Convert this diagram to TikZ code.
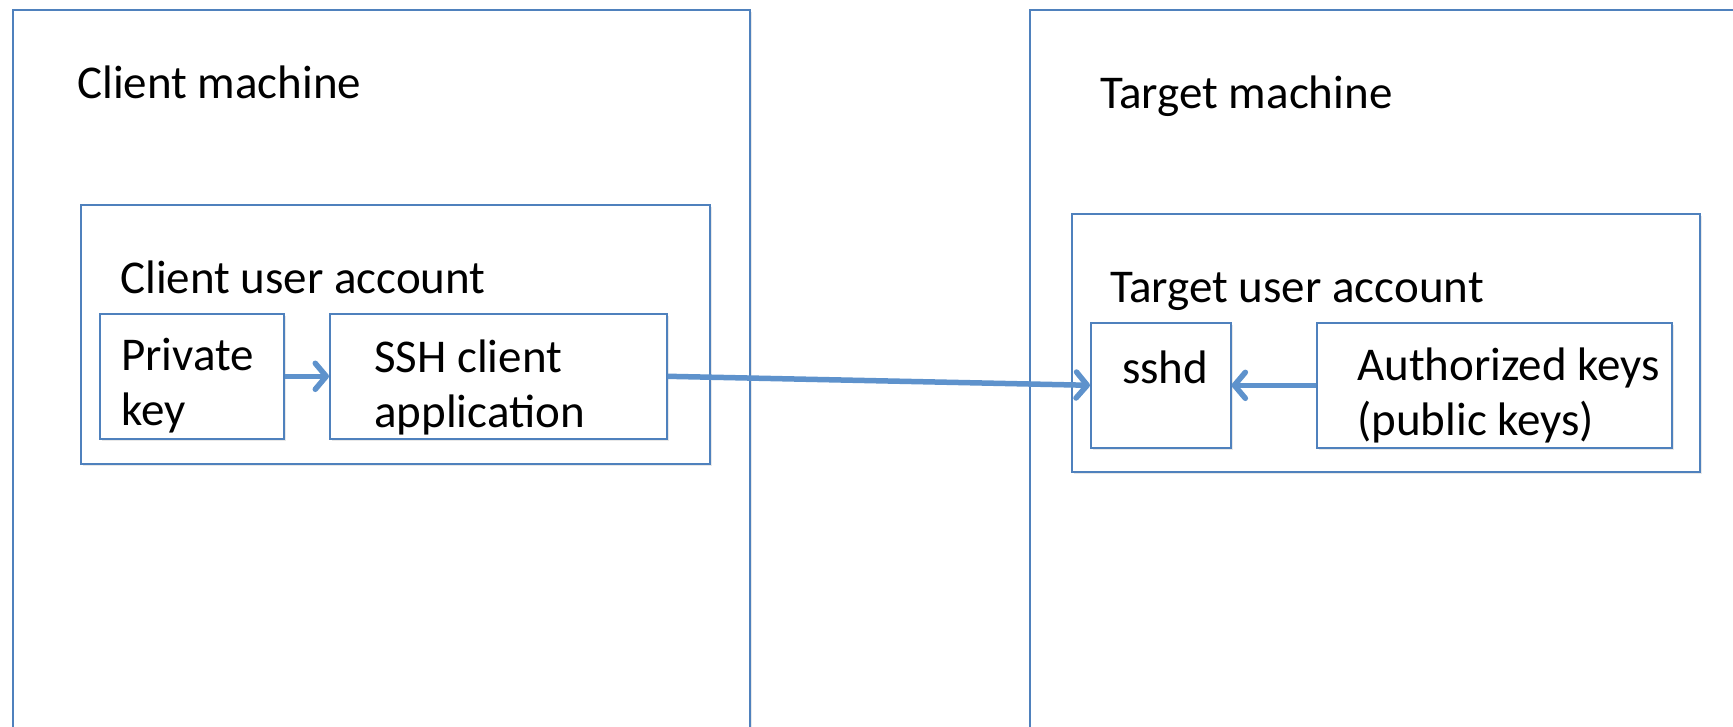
\documentclass[tikz,border=0pt]{standalone}
\usepackage{fontspec}
\setmainfont{Carlito}
\usetikzlibrary{arrows.meta,shadows}
\definecolor{boxblue}{RGB}{79,129,189}
\definecolor{arrowblue}{RGB}{94,146,204}
\tikzset{
  box/.style={draw=boxblue, line width=1.6pt, fill=white, rectangle, inner sep=0pt, anchor=north west,
    drop shadow={opacity=0.18, shadow xshift=2pt, shadow yshift=-2pt}},
  lbl/.style={anchor=base west, inner sep=0pt, align=left, font=\fontsize{47}{55}\selectfont},
  link/.style={draw=arrowblue, line width=5.5pt, -{Straight Barb[round, length=11pt, width=26pt]}}
}
\begin{document}
\begin{tikzpicture}[x=1pt,y=-1pt]
\useasboundingbox (0,0) rectangle (1733,726);
\fill[white] (0,0) rectangle (1733,726);
\clip (0,0) rectangle (1733,726);
\begin{scope}
\node[box, minimum width=737, minimum height=760] (clientm) at (12,9) {};
\node[lbl] (clientmtxt) at (77,98) {Client machine};
\node[box, minimum width=629, minimum height=259] (clientu) at (80,204) {};
\node[lbl] (clientutxt) at (120,293) {Client user account};
\node[box, minimum width=184, minimum height=125] (privkey) at (99,313) {};
\node[lbl] (privkeytxt) at (121,425) {Private\\key};
\node[box, minimum width=337, minimum height=125] (sshapp) at (329,313) {};
\node[lbl] (sshapptxt) at (374,427) {SSH client\\application};
\end{scope}
\begin{scope}
\node[box, minimum width=760, minimum height=760] (targetm) at (1029,9) {};
\node[lbl] (targetmtxt) at (1100,108) {Target machine};
\node[box, minimum width=628, minimum height=258] (targetu) at (1071,213) {};
\node[lbl] (targetutxt) at (1110,302) {Target user account};
\node[box, minimum width=140, minimum height=125] (sshd) at (1090,322) {};
\node[lbl] (sshdtxt) at (1122,383) {sshd};
\node[box, minimum width=355, minimum height=125] (authkeys) at (1316,322) {};
\node[lbl] (authkeystxt) at (1357,435) {Authorized keys\\(public keys)};
\end{scope}
\draw[link] (privkey.east) -- (sshapp.west);
\draw[link] (sshapp.east) -- (sshd.west);
\draw[link] (authkeys.west) -- (sshd.east);
\end{tikzpicture}
\end{document}
